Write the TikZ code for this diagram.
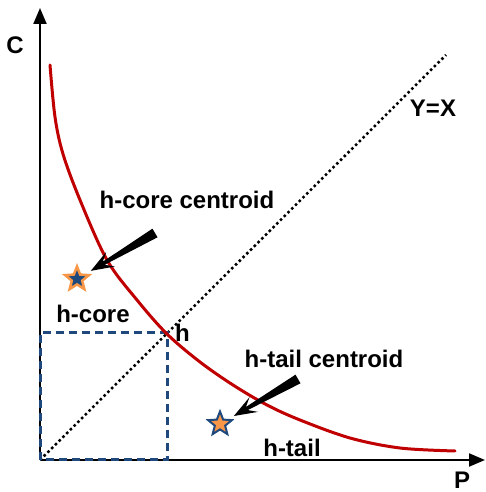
\documentclass[tikz,border=0pt]{standalone}
\usepackage{fontspec}
\setmainfont{Liberation Sans}
\usetikzlibrary{arrows.meta,calc,positioning,shapes.geometric}

\definecolor{hred}{RGB}{192,0,0}
\definecolor{hblue}{RGB}{31,73,125}
\definecolor{horange}{RGB}{247,150,70}

\newcommand*{\xmax}{445}
\newcommand*{\ymax}{452}

% wide black pointer from a tail point to a star
\newcommand*{\wedgearrow}[2]{%
	\coordinate (tip) at ($(#2)!16pt!(#1)$);
	\coordinate (neck) at ($(tip)!15pt!(#1)$);
	\coordinate (wing) at ($(tip)!23pt!(#1)$);
	\fill ($(#1)!5pt!90:(tip)$) -- ($(neck)!1.8pt!90:(tip)$) -- ($(wing)!8.5pt!90:(tip)$) -- (tip)
		-- ($(wing)!8.5pt!-90:(tip)$) -- ($(neck)!1.8pt!-90:(tip)$) -- ($(#1)!5pt!-90:(tip)$) -- cycle;}

\begin{document}
\begin{tikzpicture}
[
	x=1pt, y=1pt,
	lbl/.style={font=\bfseries\fontsize{24}{28}\selectfont, inner sep=0pt},
	axis/.style={line width=2pt, -{Triangle[length=16pt,width=13pt]}},
	corestar/.style={star, star points=5, star point ratio=2.3, minimum size=25pt, inner sep=0pt, fill=hblue, draw=horange, line width=2.5pt},
	tailstar/.style={star, star points=5, star point ratio=2.3, minimum size=25pt, inner sep=0pt, fill=horange, draw=hblue, line width=2pt}
]
	\useasboundingbox (-40,-32) rectangle (446,460);

	% axes
	\coordinate (o) at (0,0);
	\draw[axis] (o) -- (0,\ymax) coordinate (ytop);
	\draw[axis] (o) -- (\xmax,0) coordinate (xend);
	\node[lbl] (ylbl) at (-25,415) {C};
	\node[lbl] (xlbl) at (422,-20) {P};

	% diagonal
	\draw[line width=2.5pt, dash pattern=on 2.5pt off 2.8pt] (o) -- (406,405) coordinate (dend);
	\node[lbl] (diag) at (393,352) {Y=X};

	% h box
	\coordinate (hpt) at (127,127);
	\draw[hblue, line width=3pt, dash pattern=on 8pt off 5pt] (o) rectangle (hpt);
	\node[lbl, right=8pt of hpt] (hlbl) {h};

	% graph
	\draw[hred, line width=3pt, line cap=round] plot[smooth, tension=0.55] coordinates {(10,395) (15,343) (23,306) (40,260) (67,200) (97,160) (127,126) (160,98) (193,75) (227,55) (260,40) (310,22) (360,12) (415,9)};

	% centroids
	\node[lbl] (coretxt) at (53,146) {h-core};
	\node[lbl] (tailtxt) at (252,12) {h-tail};
	\node[lbl] (corecen) at (147,260) {h-core centroid};
	\node[lbl] (tailcen) at (284,101) {h-tail centroid};
	\node[corestar] (cstar) at (37,181) {};
	\node[tailstar] (tstar) at (180,36) {};
	\coordinate (ctail) at (115,227);
	\coordinate (ttail) at (258,81);
	\wedgearrow{ctail}{cstar}
	\wedgearrow{ttail}{tstar}

\end{tikzpicture}
\end{document}
